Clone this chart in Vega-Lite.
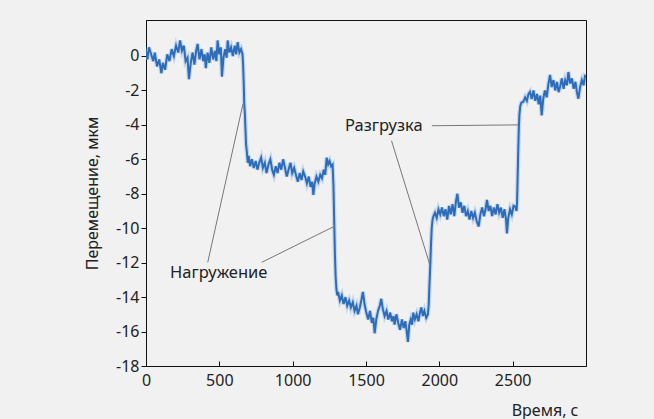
{
  "$schema": "https://vega.github.io/schema/vega-lite/v6.json",
  "width": 440,
  "height": 346,
  "autosize": {"type": "none"},
  "padding": {"left": 146, "top": 20, "right": 68, "bottom": 53},
  "background": "#f1f1f1",
  "config": {
    "view": {"stroke": "#111", "strokeWidth": 1, "fill": "#f1f1f1"},
    "font": "Noto Sans",
    "axis": {"grid": false, "domainColor": "#111", "tickColor": "#111", "labelColor": "#222", "titleColor": "#222", "labelFontSize": 16, "titleFontSize": 16, "titleFontWeight": "normal", "labelFont": "Noto Sans", "titleFont": "Noto Sans", "labelOverlap": false, "labelFlush": false, "labelExpr": "datum.value + ''", "tickCount": 30}
  },
  "datasets": {
    "series": [
      {"t":0,"v":0.3},{"t":10,"v":-0.2},{"t":20,"v":0.5},{"t":35,"v":0.1},{"t":50,"v":-0.3},{"t":60,"v":0.2},{"t":75,"v":-0.6},{"t":90,"v":-0.2},{"t":105,"v":-1.0},{"t":115,"v":-0.4},{"t":130,"v":-0.8},{"t":145,"v":0.1},{"t":160,"v":-0.3},{"t":175,"v":0.4},{"t":190,"v":0.0},{"t":205,"v":0.6},{"t":220,"v":0.2},{"t":232,"v":0.9},{"t":245,"v":0.3},{"t":258,"v":0.6},{"t":270,"v":-0.3},{"t":283,"v":-0.1},{"t":293,"v":-1.35},{"t":305,"v":-0.4},{"t":318,"v":0.2},{"t":330,"v":-0.5},{"t":342,"v":0.3},{"t":352,"v":0.7},{"t":365,"v":-0.2},{"t":378,"v":0.4},{"t":390,"v":-0.3},{"t":400,"v":0.1},{"t":408,"v":-0.7},{"t":420,"v":0.2},{"t":432,"v":-0.4},{"t":445,"v":0.5},{"t":458,"v":-0.2},{"t":470,"v":0.3},{"t":480,"v":-0.3},{"t":488,"v":0.9},{"t":500,"v":0.1},{"t":510,"v":0.5},{"t":518,"v":-1.2},{"t":528,"v":-0.1},{"t":540,"v":0.4},{"t":550,"v":-0.1},{"t":557,"v":0.9},{"t":568,"v":0.2},{"t":580,"v":0.5},{"t":592,"v":0.0},{"t":605,"v":0.6},{"t":615,"v":0.1},{"t":625,"v":0.8},{"t":637,"v":0.2},{"t":648,"v":0.4},{"t":658,"v":0.1},
      {"t":662,"v":-0.5},{"t":666,"v":-1.5},{"t":670,"v":-2.8},{"t":674,"v":-3.3},{"t":678,"v":-4.2},{"t":682,"v":-5.1},{"t":688,"v":-5.6},{"t":694,"v":-6.2},
      {"t":700,"v":-5.8},{"t":710,"v":-6.4},{"t":722,"v":-6.0},{"t":735,"v":-6.5},{"t":748,"v":-6.1},{"t":760,"v":-6.6},{"t":772,"v":-6.2},{"t":785,"v":-5.9},{"t":797,"v":-6.5},{"t":810,"v":-6.2},{"t":822,"v":-6.8},{"t":835,"v":-6.3},{"t":848,"v":-6.0},{"t":860,"v":-6.6},{"t":872,"v":-6.9},{"t":885,"v":-6.4},{"t":897,"v":-6.8},{"t":910,"v":-6.2},{"t":922,"v":-6.6},{"t":935,"v":-6.0},{"t":948,"v":-6.5},{"t":960,"v":-7.0},{"t":972,"v":-6.6},{"t":985,"v":-6.2},{"t":997,"v":-6.8},{"t":1010,"v":-6.5},{"t":1022,"v":-6.9},{"t":1035,"v":-7.3},{"t":1048,"v":-6.8},{"t":1060,"v":-7.2},{"t":1072,"v":-6.7},{"t":1085,"v":-7.0},{"t":1097,"v":-7.4},{"t":1110,"v":-7.0},{"t":1122,"v":-7.6},{"t":1133,"v":-7.3},{"t":1141,"v":-8.07},{"t":1150,"v":-7.4},{"t":1162,"v":-7.0},{"t":1175,"v":-7.3},{"t":1188,"v":-6.9},{"t":1200,"v":-7.1},{"t":1212,"v":-6.6},{"t":1222,"v":-6.9},{"t":1232,"v":-5.9},{"t":1242,"v":-6.3},{"t":1252,"v":-6.1},{"t":1262,"v":-6.4},{"t":1272,"v":-6.3},
      {"t":1278,"v":-7.5},{"t":1283,"v":-9.5},{"t":1288,"v":-11.5},{"t":1293,"v":-12.8},{"t":1298,"v":-13.5},{"t":1304,"v":-13.9},
      {"t":1310,"v":-13.7},{"t":1322,"v":-14.2},{"t":1335,"v":-13.9},{"t":1347,"v":-14.4},{"t":1360,"v":-14.0},{"t":1372,"v":-14.5},{"t":1385,"v":-14.2},{"t":1397,"v":-14.6},{"t":1410,"v":-14.3},{"t":1422,"v":-14.8},{"t":1435,"v":-14.5},{"t":1445,"v":-15.0},{"t":1458,"v":-14.6},{"t":1470,"v":-14.1},{"t":1479,"v":-13.7},{"t":1490,"v":-14.4},{"t":1502,"v":-14.9},{"t":1515,"v":-15.3},{"t":1527,"v":-14.8},{"t":1540,"v":-15.5},{"t":1550,"v":-15.2},{"t":1559,"v":-16.1},{"t":1570,"v":-15.3},{"t":1582,"v":-14.8},{"t":1594,"v":-14.5},{"t":1604,"v":-14.1},{"t":1615,"v":-14.7},{"t":1627,"v":-15.1},{"t":1640,"v":-14.8},{"t":1652,"v":-15.3},{"t":1665,"v":-14.9},{"t":1677,"v":-15.4},{"t":1688,"v":-15.1},{"t":1695,"v":-15.6},{"t":1707,"v":-15.0},{"t":1720,"v":-15.5},{"t":1732,"v":-15.9},{"t":1745,"v":-15.3},{"t":1757,"v":-15.8},{"t":1768,"v":-15.4},{"t":1778,"v":-16.0},{"t":1786,"v":-16.6},{"t":1795,"v":-15.6},{"t":1805,"v":-15.3},{"t":1814,"v":-15.6},{"t":1822,"v":-14.9},{"t":1833,"v":-15.3},{"t":1845,"v":-15.0},{"t":1857,"v":-15.4},{"t":1868,"v":-14.9},{"t":1877,"v":-14.6},{"t":1888,"v":-15.1},{"t":1898,"v":-14.8},{"t":1911,"v":-15.2},{"t":1922,"v":-15.0},
      {"t":1928,"v":-14.4},{"t":1933,"v":-13.2},{"t":1938,"v":-12.2},{"t":1943,"v":-11.0},{"t":1948,"v":-10.0},{"t":1954,"v":-9.5},
      {"t":1960,"v":-9.3},{"t":1970,"v":-9.1},{"t":1982,"v":-9.4},{"t":1994,"v":-8.9},{"t":2006,"v":-9.2},{"t":2018,"v":-8.8},{"t":2030,"v":-9.3},{"t":2042,"v":-8.9},{"t":2054,"v":-9.5},{"t":2066,"v":-8.7},{"t":2078,"v":-9.2},{"t":2090,"v":-8.6},{"t":2102,"v":-9.3},{"t":2114,"v":-8.4},{"t":2123,"v":-8.0},{"t":2134,"v":-8.8},{"t":2146,"v":-8.5},{"t":2158,"v":-9.1},{"t":2170,"v":-8.7},{"t":2182,"v":-9.3},{"t":2194,"v":-9.0},{"t":2206,"v":-9.5},{"t":2218,"v":-9.0},{"t":2230,"v":-9.4},{"t":2242,"v":-9.1},{"t":2255,"v":-9.6},{"t":2268,"v":-9.9},{"t":2280,"v":-9.2},{"t":2292,"v":-8.8},{"t":2304,"v":-9.3},{"t":2315,"v":-8.9},{"t":2325,"v":-8.36},{"t":2336,"v":-9.0},{"t":2348,"v":-8.7},{"t":2360,"v":-9.3},{"t":2372,"v":-8.8},{"t":2384,"v":-9.2},{"t":2396,"v":-8.6},{"t":2408,"v":-9.1},{"t":2420,"v":-8.8},{"t":2432,"v":-9.4},{"t":2444,"v":-8.9},{"t":2455,"v":-9.5},{"t":2461,"v":-10.3},{"t":2470,"v":-9.4},{"t":2482,"v":-8.9},{"t":2494,"v":-9.2},{"t":2506,"v":-8.7},{"t":2518,"v":-8.75},{"t":2526,"v":-9.0},
      {"t":2530,"v":-8.5},{"t":2534,"v":-7.0},{"t":2538,"v":-5.5},{"t":2542,"v":-4.2},{"t":2546,"v":-3.4},{"t":2552,"v":-2.9},
      {"t":2560,"v":-2.7},{"t":2573,"v":-2.66},{"t":2585,"v":-2.4},{"t":2597,"v":-2.6},{"t":2608,"v":-2.2},{"t":2618,"v":-2.08},{"t":2630,"v":-2.5},{"t":2642,"v":-2.0},{"t":2654,"v":-2.6},{"t":2666,"v":-2.2},{"t":2678,"v":-2.8},{"t":2688,"v":-2.3},{"t":2698,"v":-3.45},{"t":2708,"v":-2.5},{"t":2720,"v":-2.0},{"t":2732,"v":-2.4},{"t":2744,"v":-1.6},{"t":2755,"v":-1.1},{"t":2766,"v":-1.8},{"t":2778,"v":-1.4},{"t":2790,"v":-2.0},{"t":2802,"v":-1.5},{"t":2813,"v":-2.1},{"t":2823,"v":-1.8},{"t":2835,"v":-1.3},{"t":2847,"v":-1.9},{"t":2858,"v":-1.4},{"t":2870,"v":-1.7},{"t":2880,"v":-0.93},{"t":2892,"v":-1.6},{"t":2904,"v":-1.3},{"t":2916,"v":-1.9},{"t":2928,"v":-1.5},{"t":2938,"v":-2.1},{"t":2948,"v":-2.48},{"t":2960,"v":-1.8},{"t":2972,"v":-1.4},{"t":2984,"v":-1.7},{"t":2993,"v":-1.16},{"t":3000,"v":-1.2}
    ],
    "leaders": [
      {"x1":421,"y1":-11.98,"x2":661,"y2":-2.79},
      {"x1":789,"y1":-11.98,"x2":1289,"y2":-9.87},
      {"x1":1949,"y1":-4.05,"x2":2537,"y2":-4.0},
      {"x1":1674,"y1":-4.92,"x2":1936,"y2":-12.14}
    ],
    "labels": [
      {"x":164,"y":-12.6,"text":"Нагружение"},
      {"x":1357,"y":-4.07,"text":"Разгрузка"}
    ]
  },
  "layer": [
    {
      "data": {"name": "series"},
      "mark": {"type": "line", "stroke": "#a9c4e6", "strokeWidth": 4.5, "opacity": 0.6, "clip": true},
      "encoding": {
        "x": {"field": "t", "type": "quantitative", "scale": {"domain": [0, 3000], "nice": false},
          "axis": {"values": [0,500,1000,1500,2000,2500], "tickCount": 30, "ticks": true, "tickSize": -5, "tickColor": "#111", "tickWidth": 1, "labelPadding": 11, "labelOverlap": false, "title": "Время, с", "titleAnchor": "end", "titleAlign": "right", "titleX": 432, "titleY": 49, "titleBaseline": "alphabetic"}},
        "y": {"field": "v", "type": "quantitative", "scale": {"domain": [-18, 2.09], "nice": false, "zero": false},
          "axis": {"values": [-18,-16,-14,-12,-10,-8,-6,-4,-2,0], "tickCount": 30, "tickSize": 5, "labelPadding": 2, "labelOverlap": false, "title": "Перемещение, мкм", "titlePadding": 15}}
      }
    },
    {
      "data": {"name": "series"},
      "mark": {"type": "line", "stroke": "#2c6cb9", "strokeWidth": 2, "clip": true},
      "encoding": {
        "x": {"field": "t", "type": "quantitative"},
        "y": {"field": "v", "type": "quantitative"}
      }
    },
    {
      "data": {"name": "leaders"},
      "mark": {"type": "rule", "stroke": "#777", "strokeWidth": 1},
      "encoding": {
        "x": {"field": "x1", "type": "quantitative"},
        "y": {"field": "y1", "type": "quantitative"},
        "x2": {"field": "x2"},
        "y2": {"field": "y2"}
      }
    },
    {
      "data": {"name": "labels"},
      "mark": {"type": "text", "align": "left", "baseline": "middle", "fontSize": 16.5, "font": "Noto Sans", "color": "#222"},
      "encoding": {
        "x": {"field": "x", "type": "quantitative"},
        "y": {"field": "y", "type": "quantitative"},
        "text": {"field": "text"}
      }
    }
  ]
}
